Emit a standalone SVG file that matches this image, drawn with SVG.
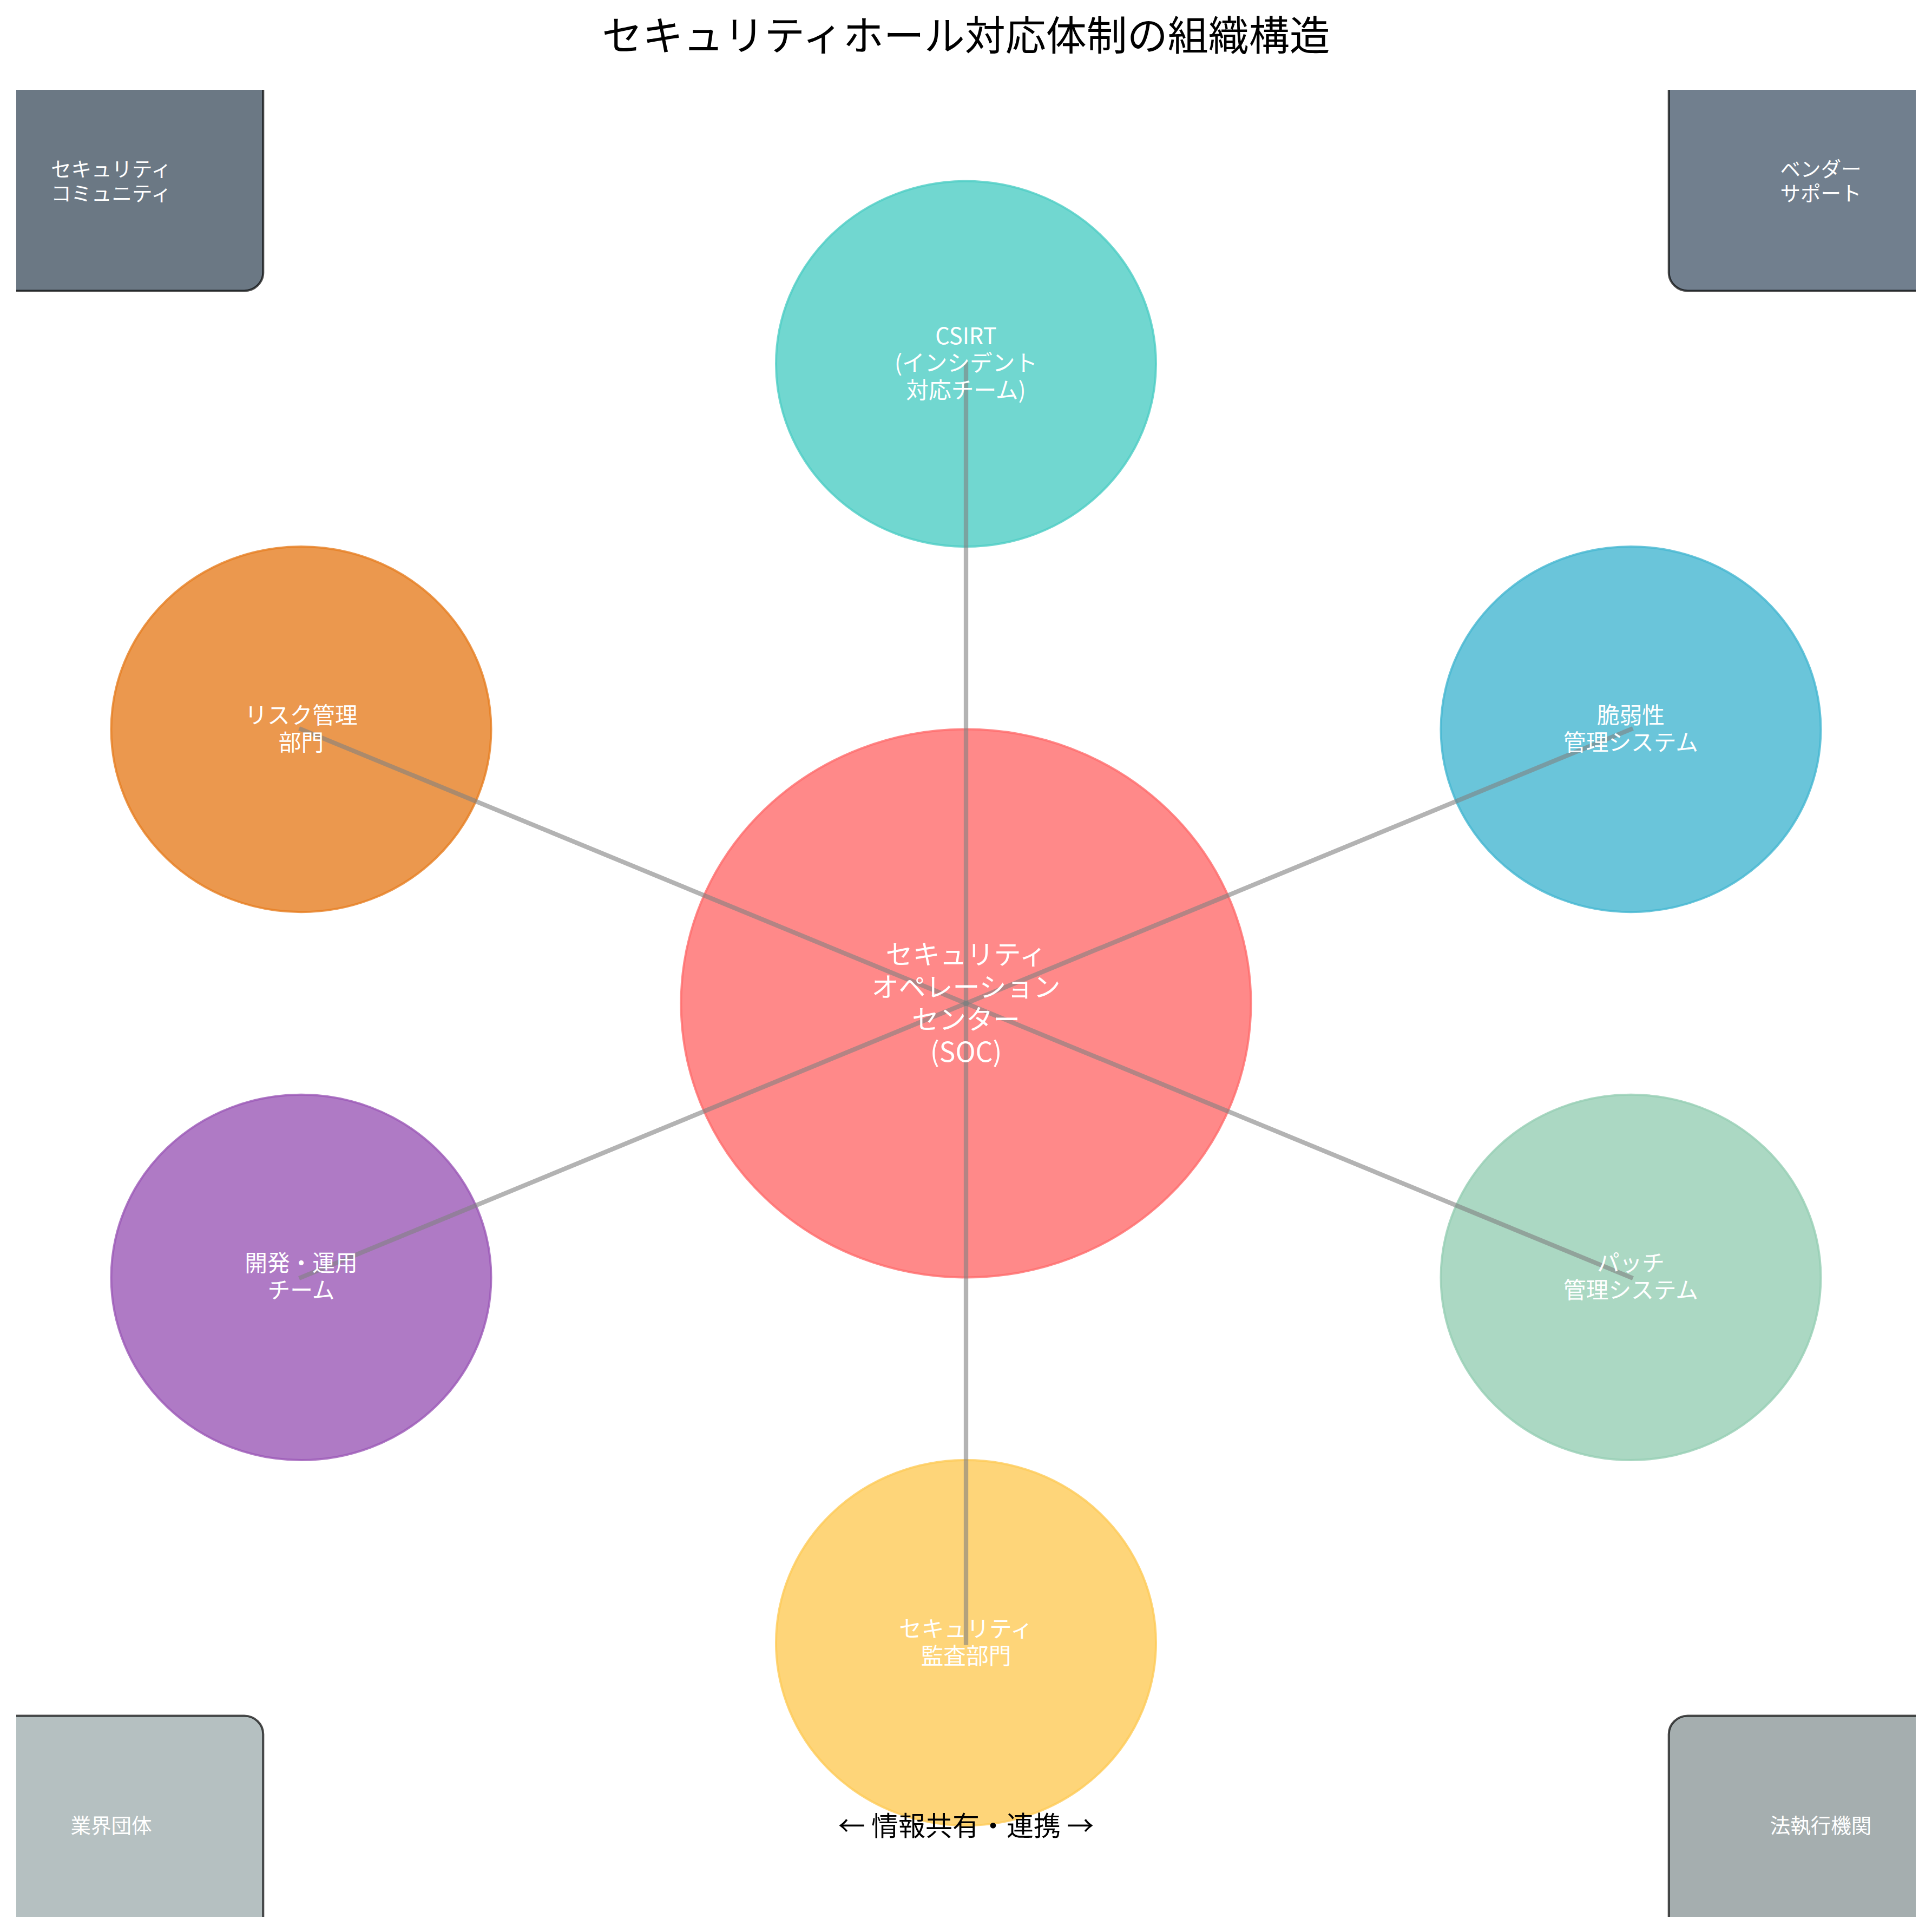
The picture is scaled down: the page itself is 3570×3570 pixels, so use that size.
<svg xmlns="http://www.w3.org/2000/svg" width="3570" height="3570" viewBox="0 0 3570 3570">
  <defs>
    <clipPath id="axes">
      <rect x="30" y="166" width="3510" height="3376"/>
    </clipPath>
  </defs>
  <style>
    text { font-family: "Noto Sans CJK JP", "Noto Sans", sans-serif; text-anchor: middle; dominant-baseline: central; }
    .node { stroke-width: 4; fill-opacity: 0.8; stroke-opacity: 0.8; }
    .lbl { fill: #ffffff; font-size: 41.7px; }
    .soc { fill: #ffffff; font-size: 50px; }
    .box { stroke: #000000; stroke-opacity: 0.7; stroke-width: 4; fill-opacity: 0.7; }
    .blbl { fill: #ffffff; font-size: 37.5px; }
    .conn { stroke: #808080; stroke-opacity: 0.6; stroke-width: 8.3; stroke-linecap: square; fill: none; }
  </style>
  <rect width="3570" height="3570" fill="#ffffff"/>

  <text id="title" x="1785" y="60" font-size="75px" fill="#000000">セキュリティホール対応体制の組織構造</text>

  <g id="boxes" clip-path="url(#axes)">
    <rect class="box" x="-75.3" y="132.2" width="561.6" height="405.2" rx="35" ry="34" fill="#2C3E50"/>
    <rect class="box" x="3083.7" y="132.2" width="561.6" height="405.2" rx="35" ry="34" fill="#34495E"/>
    <rect class="box" x="-75.3" y="3170.6" width="561.6" height="405.2" rx="35" ry="34" fill="#95A5A6"/>
    <rect class="box" x="3083.7" y="3170.6" width="561.6" height="405.2" rx="35" ry="34" fill="#7F8C8D"/>
  </g>

  <g id="circles">
    <ellipse id="soc-shape" class="node" cx="1785" cy="1854" rx="526.5" ry="506.4" fill="#FF6B6B" stroke="#FF6B6B"/>
    <ellipse id="csirt-shape" class="node" cx="1785" cy="672.4" rx="351" ry="337.6" fill="#4ECDC4" stroke="#4ECDC4"/>
    <ellipse id="vuln-shape" class="node" cx="3013.5" cy="1347.6" rx="351" ry="337.6" fill="#45B7D1" stroke="#45B7D1"/>
    <ellipse id="patch-shape" class="node" cx="3013.5" cy="2360.4" rx="351" ry="337.6" fill="#96CEB4" stroke="#96CEB4"/>
    <ellipse id="audit-shape" class="node" cx="1785" cy="3035.6" rx="351" ry="337.6" fill="#FECA57" stroke="#FECA57"/>
    <ellipse id="dev-shape" class="node" cx="556.5" cy="2360.4" rx="351" ry="337.6" fill="#9B59B6" stroke="#9B59B6"/>
    <ellipse id="risk-shape" class="node" cx="556.5" cy="1347.6" rx="351" ry="337.6" fill="#E67E22" stroke="#E67E22"/>
  </g>

  <g id="connectors">
    <line class="conn" x1="1785" y1="1854" x2="1785" y2="672.4"/>
    <line class="conn" x1="1785" y1="1854" x2="3013.5" y2="1347.6"/>
    <line class="conn" x1="1785" y1="1854" x2="3013.5" y2="2360.4"/>
    <line class="conn" x1="1785" y1="1854" x2="1785" y2="3035.6"/>
    <line class="conn" x1="1785" y1="1854" x2="556.5" y2="2360.4"/>
    <line class="conn" x1="1785" y1="1854" x2="556.5" y2="1347.6"/>
  </g>

  <g id="soc">
    <text class="soc" x="1785" y="1760"><tspan x="1785" y="1760">セキュリティ</tspan><tspan x="1785" y="1820">オペレーション</tspan><tspan x="1785" y="1880">センター</tspan><tspan x="1785" y="1940">(SOC)</tspan></text>
  </g>
  <g id="csirt">
    <text class="lbl"><tspan x="1785" y="618.4">CSIRT</tspan><tspan x="1785" y="668.4">(インシデント</tspan><tspan x="1785" y="718.4">対応チーム)</tspan></text>
  </g>
  <g id="vuln">
    <text class="lbl"><tspan x="3013.5" y="1318.6">脆弱性</tspan><tspan x="3013.5" y="1368.6">管理システム</tspan></text>
  </g>
  <g id="patch">
    <text class="lbl"><tspan x="3013.5" y="2331.4">パッチ</tspan><tspan x="3013.5" y="2381.4">管理システム</tspan></text>
  </g>
  <g id="audit">
    <text class="lbl"><tspan x="1785" y="3006.6">セキュリティ</tspan><tspan x="1785" y="3056.6">監査部門</tspan></text>
  </g>
  <g id="dev">
    <text class="lbl"><tspan x="556.5" y="2331.4">開発・運用</tspan><tspan x="556.5" y="2381.4">チーム</tspan></text>
  </g>
  <g id="risk">
    <text class="lbl"><tspan x="556.5" y="1318.6">リスク管理</tspan><tspan x="556.5" y="1368.6">部門</tspan></text>
  </g>

  <g id="community">
    <text class="blbl"><tspan x="205.5" y="309">セキュリティ</tspan><tspan x="205.5" y="354">コミュニティ</tspan></text>
  </g>
  <g id="vendor">
    <text class="blbl"><tspan x="3364.5" y="309">ベンダー</tspan><tspan x="3364.5" y="354">サポート</tspan></text>
  </g>
  <g id="industry">
    <text class="blbl" x="205.5" y="3370">業界団体</text>
  </g>
  <g id="law">
    <text class="blbl" x="3364.5" y="3370">法執行機関</text>
  </g>

  <text id="caption" x="1785" y="3370" font-size="50px" fill="#000000">← 情報共有・連携 →</text>
</svg>
